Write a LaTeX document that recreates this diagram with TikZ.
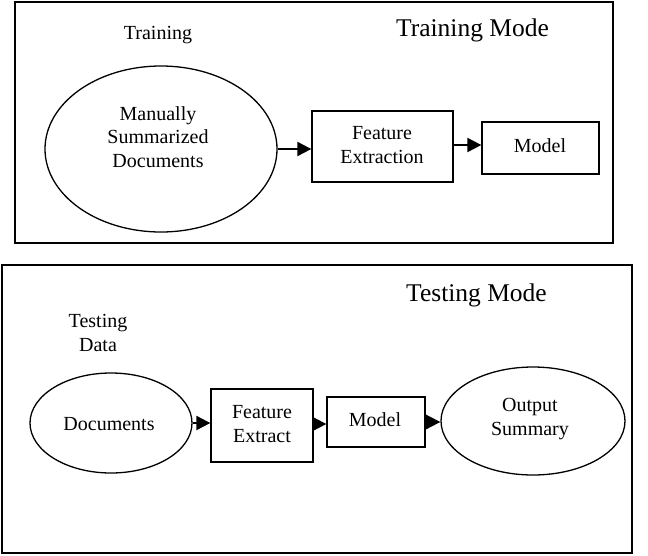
\documentclass[tikz,border=0pt]{standalone}
\usepackage{fontspec}
\setmainfont{Liberation Serif}
\usetikzlibrary{shapes.geometric,arrows.meta}
\tikzset{
  txt/.style={font=\fontsize{20}{23.5}\selectfont, align=center, inner sep=0pt},
  bigtxt/.style={font=\fontsize{25.5}{30}\selectfont, inner sep=0pt},
  oval/.style={draw, ellipse, line width=1.3pt, inner sep=0pt},
  blk/.style={draw, rectangle, line width=1.3pt, inner sep=0pt},
  frame/.style={draw, line width=1.6pt},
  arr/.style={line width=2pt, -{Triangle[length=14pt,width=14pt]}},
}
\begin{document}
\begin{tikzpicture}[x=1pt,y=-1pt]
\useasboundingbox (0,0) rectangle (648,555);
% frames
\draw[frame] (15,2) rectangle (613,243);
\draw[frame] (2,265) rectangle (632,553);
% training mode
\node[txt, anchor=base] (trlab) at (158,39) {Training};
\node[bigtxt, anchor=base] (trmode) at (472.5,36) {Training Mode};
\node[oval, minimum width=232pt, minimum height=166pt] (msd) at (161,149) {};
\node[txt] (msdtxt) at (158,137) {Manually\\Summarized\\Documents};
\node[blk, minimum width=141pt, minimum height=71pt] (fe) at (382.5,146.5) {};
\node[txt] (fetxt) at (382,145) {Feature\\Extraction};
\node[blk, minimum width=117pt, minimum height=52pt] (model) at (540.5,148) {};
\node[txt, anchor=base] (modeltxt) at (540,152) {Model};
\draw[arr] (msd.east) -- (msd.east -| fe.west);
\draw[arr] ([yshift=1.5pt]fe.east) -- ([yshift=1.5pt]fe.east -| model.west);
% testing mode
\node[bigtxt, anchor=base] (tsmode) at (476.5,301) {Testing Mode};
\node[txt] (tslab) at (98,333) {Testing\\Data};
\node[oval, minimum width=162pt, minimum height=100pt] (docs) at (111,423) {};
\node[txt, anchor=base] (docstxt) at (109,430) {Documents};
\node[blk, minimum width=102pt, minimum height=73pt] (fe2) at (262,425.5) {};
\node[txt] (fe2txt) at (262,424) {Feature\\Extract};
\node[blk, minimum width=98pt, minimum height=50pt] (model2) at (376,422) {};
\node[txt, anchor=base] (model2txt) at (375,426) {Model};
\node[oval, minimum width=184pt, minimum height=108pt] (out) at (533,421) {};
\node[txt] (outtxt) at (530,419) {Output\\Summary};
\draw[arr] (docs.east) -- (docs.east -| fe2.west);
\draw[arr] ([yshift=1.5pt]fe2.east) -- ([yshift=1.5pt]fe2.east -| model2.west);
\draw[line width=2pt, -{Triangle[length=16pt,width=16pt]}] (model2.east) -- (model2.east -| out.west);
\end{tikzpicture}
\end{document}
